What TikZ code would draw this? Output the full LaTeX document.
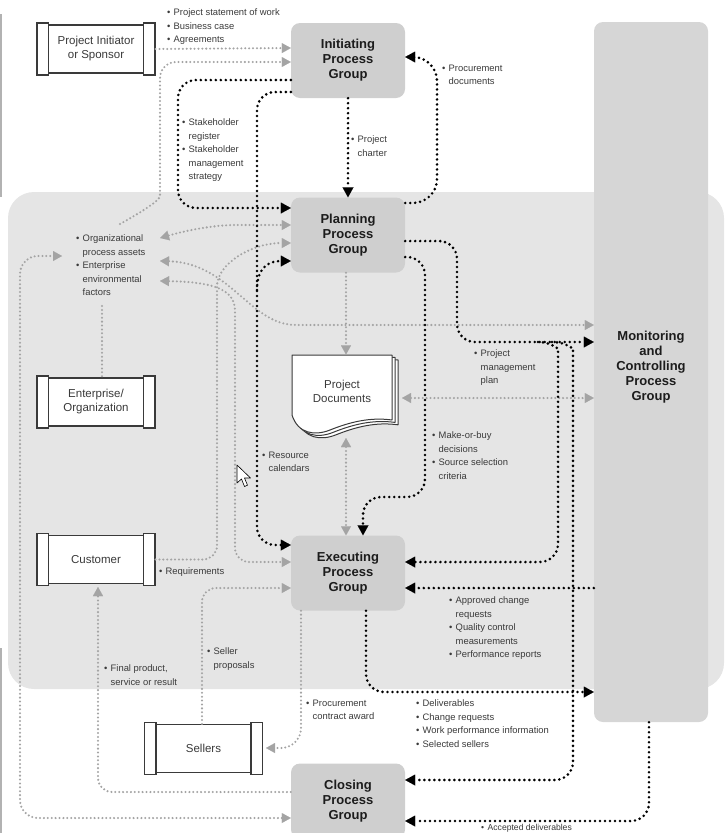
\documentclass[tikz,border=0pt]{standalone}
\usepackage{fontspec}
\setmainfont{Liberation Sans}
\usetikzlibrary{arrows.meta}

\definecolor{panelgray}{HTML}{E5E5E5}
\definecolor{mongray}{HTML}{D6D6D6}
\definecolor{boxgray}{HTML}{CFCFCF}
\definecolor{flowgray}{HTML}{A4A4A4}
\definecolor{lbltext}{HTML}{3A3A3A}
\definecolor{headtext}{HTML}{1C1C1C}
\definecolor{entline}{HTML}{3A3A3A}

% bullet and hanging indent for the data lists
\newcommand{\bu}{\makebox[6.5pt][l]{\textbullet}}
\newcommand{\hi}{\hspace*{6.5pt}}

\tikzset{
  GT/.tip={Triangle[length=9pt,width=10pt,line width=0.01pt]},
  BT/.tip={Triangle[length=10pt,width=11pt,line width=0.01pt]},
  gline/.style={draw=flowgray, line width=2.3pt, dash pattern=on 0pt off 3.9pt, line cap=round, rounded corners=14pt},
  gflow/.style={gline, -GT},
  gboth/.style={gline, GT-GT},
  bflow/.style={draw=black, line width=2.9pt, dash pattern=on 0pt off 5pt, line cap=round, rounded corners=18pt, -BT},
  headfont/.style={align=center, text=headtext, font=\fontsize{13}{15}\selectfont\bfseries},
  procbox/.style={headfont, fill=boxgray, rounded corners=9pt, minimum width=114pt, minimum height=75pt, inner sep=0pt},
  entbox/.style={draw=entline, fill=white, line width=1.1pt, minimum width=95pt, minimum height=48pt, inner sep=0pt, align=center, text=lbltext, font=\fontsize{11.5}{14}\selectfont},
  entbar/.style={draw=entline, fill=white, line width=1.1pt},
  docpage/.style={draw=entline, fill=white, line width=1pt, line join=round},
  lbl/.style={anchor=north west, inner sep=0pt, align=left, text=lbltext, font=\fontsize{9.4}{13.5}\selectfont},
}

% external entity: box with a bar on each side
\newcommand{\entity}[4]{%
  \draw[entbar] (#2-59,#3-26) rectangle (#2-47.5,#3+26);
  \draw[entbar] (#2+47.5,#3-26) rectangle (#2+59,#3+26);
  \node[entbox] (#1) at (#2,#3) {#4};
}

\begin{document}
\begin{tikzpicture}[x=1pt,y=-1pt]
\useasboundingbox (0,0) rectangle (726,833);

% shaded area behind the core process groups
\fill[panelgray, rounded corners=26pt] (8,192) rectangle (724,689);
\draw[gray!60, line width=1.5pt] (1,14) -- (1,197);
\draw[gray!60, line width=1.5pt] (1,648) -- (1,833);

% monitoring and controlling column
\node[fill=mongray, rounded corners=9pt, minimum width=114pt, minimum height=700pt, inner sep=0pt] (mon) at (651,372) {};
\node[headfont] (montxt) at (651,367.5) {Monitoring\\and\\Controlling\\Process\\Group};

% process groups
\node[procbox] (init)  at (348,60.5) {Initiating\\Process\\Group};
\node[procbox] (plan)  at (348,235)  {Planning\\Process\\Group};
\node[procbox] (exec)  at (348,573)  {Executing\\Process\\Group};
\node[procbox] (close) at (348,801)  {Closing\\Process\\Group};

% external entities
\entity{sponsor}{96}{49}{Project Initiator\\or Sponsor}
\entity{ent}{96}{402}{Enterprise/\\Organization}
\entity{cust}{96}{559.5}{Customer}
\entity{sell}{203.5}{748.5}{Sellers}

% project documents stack
\foreach \d in {6,3,0} {
  \draw[docpage, shift={(\d,\d*0.8)}] (292,355) -- (392,355) -- (392,420)
    .. controls (370,417) and (350,422) .. (330,430)
    .. controls (315,436) and (298,434) .. (292,415) -- cycle;
}
\node[entbox, draw=none, fill=none, minimum width=100pt, minimum height=72pt] (docs) at (342,391) {Project\\Documents};

% connector end points
\coordinate (opaI) at (120,224);
\coordinate (opaA) at (160,238);
\coordinate (opaB) at (160,261);
\coordinate (opaC) at (160,281);
\coordinate (opaD) at (102,306);
\coordinate (opaL) at (62,256);
\coordinate (custbot) at (98,587);
\coordinate (selr) at (266,748);
\coordinate (docsbot) at (346,438);
\coordinate (docsright) at (402,398);
\coordinate (bsplit) at (257,290);
\coordinate (qsplitA) at (538,342);
\coordinate (qsplitB) at (552,342);

% grey flows
\draw[gflow] ([xshift=11.5pt]sponsor.east) -- (init.west |- 0,48);
\draw[gflow, rounded corners=16pt] (opaI) .. controls (145,210) and (160,200) .. (160,180) -- (160,62) -- (init.west |- 0,62);
\draw[gboth] (opaA) .. controls (195,228) and (220,225) .. (250,225) -- (plan.west |- 0,225);
\draw[gflow] ([xshift=11.5pt]cust.east) -- (217,559.5) -- (217,300) .. controls (217,265) and (250,243) .. (plan.west |- 0,243);
\draw[gboth] (opaB) .. controls (230,263) and (250,325) .. (310,325) -- (mon.west |- 0,325);
\draw[gboth] (opaC) .. controls (215,282) and (235,290) .. (235,325) -- (235,562) -- (exec.west |- 0,562);
\draw[gline] (opaD) -- (ent.north -| opaD);
\draw[gboth, rounded corners=18pt] (close.west |- 0,818) -- (20,818) -- (20,256) -- (opaL);
\draw[gflow] (close.west |- 0,792) -- (98,792) -- (custbot);
\draw[gflow] (sell.north -| 202,0) -- (202,588) -- (exec.west |- 0,588);
\draw[gflow, rounded corners=20pt] (exec.south -| 301,0) -- (301,748) -- (selr);
\draw[gflow] (plan.south -| 346,0) -- (docs.north -| 346,0);
\draw[gboth] (docsbot) -- (exec.north -| docsbot);
\draw[gboth] (docsright) -- (mon.west |- docsright);

% black flows
\draw[bflow] (init.south) -- (plan.north);
\draw[bflow] (init.west |- 0,80) -- (178,80) -- (178,208) -- (plan.west |- 0,208);
\draw[bflow] (init.west |- 0,92) -- (257,92) -- (257,545) -- (exec.west |- 0,545);
\draw[bflow] (bsplit) .. controls (257,270) and (266,261) .. (plan.west |- 0,261);
\draw[bflow, rounded corners=24pt] (plan.east |- 0,203) -- (437,203) -- (437,57) -- (init.east |- 0,57);
\draw[bflow] (plan.east |- 0,241) -- (457,241) -- (457,342) -- (mon.west |- 0,342);
\draw[bflow] (qsplitA) .. controls (552,342) and (558,350) .. (558,366) -- (558,562) -- (exec.east |- 0,562);
\draw[bflow] (qsplitB) .. controls (567,342) and (573,350) .. (573,366) -- (573,780) -- (close.east |- 0,780);
\draw[bflow] (plan.east |- 0,257) -- (425,257) -- (425,497) -- (363,497) -- (exec.north -| 363,0);
\draw[bflow] (mon.west |- 0,588) -- (exec.east |- 0,588);
\draw[bflow] (exec.south -| 366,0) -- (366,692) -- (mon.west |- 0,692);
\draw[bflow] (mon.south -| 649,0) -- (649,821) -- (close.east |- 0,821);

% data labels
\node[lbl] (t-sow) at (167,8.5) {\bu Project statement of work\\\bu Business case\\\bu Agreements};
\node[lbl] (t-proc) at (442,64.5) {\bu Procurement\\\hi documents};
\node[lbl] (t-stake) at (182,118.5) {\bu Stakeholder\\\hi register\\\bu Stakeholder\\\hi management\\\hi strategy};
\node[lbl] (t-charter) at (351,135.5) {\bu Project\\\hi charter};
\node[lbl] (opa) at (76,234.5) {\bu Organizational\\\hi process assets\\\bu Enterprise\\\hi environmental\\\hi factors};
\node[lbl] (t-pmp) at (474,349.5) {\bu Project\\\hi management\\\hi plan};
\node[lbl] (t-mob) at (432,431.5) {\bu Make-or-buy\\\hi decisions\\\bu Source selection\\\hi criteria};
\node[lbl] (t-res) at (262,451.5) {\bu Resource\\\hi calendars};
\node[lbl] (t-req) at (159,567.5) {\bu Requirements};
\node[lbl] (t-acr) at (449,596.5) {\bu Approved change\\\hi requests\\\bu Quality control\\\hi measurements\\\bu Performance reports};
\node[lbl] (t-final) at (104,664.5) {\bu Final product,\\\hi service or result};
\node[lbl] (t-sp) at (207,647.5) {\bu Seller\\\hi proposals};
\node[lbl] (t-pca) at (306,699.5) {\bu Procurement\\\hi contract award};
\node[lbl] (t-del) at (416,699.5) {\bu Deliverables\\\bu Change requests\\\bu Work performance information\\\bu Selected sellers};
\node[lbl, font=\fontsize{8.6}{10}\selectfont] (t-acc) at (481,824) {\bu Accepted deliverables};

% mouse pointer
\draw[black, fill=white, line width=0.6pt, line join=round] (237,465) -- (237,483) -- (241.5,479) -- (244.5,486.5) -- (247.5,485.2) -- (244.5,478) -- (250.5,478) -- cycle;
\end{tikzpicture}
\end{document}
